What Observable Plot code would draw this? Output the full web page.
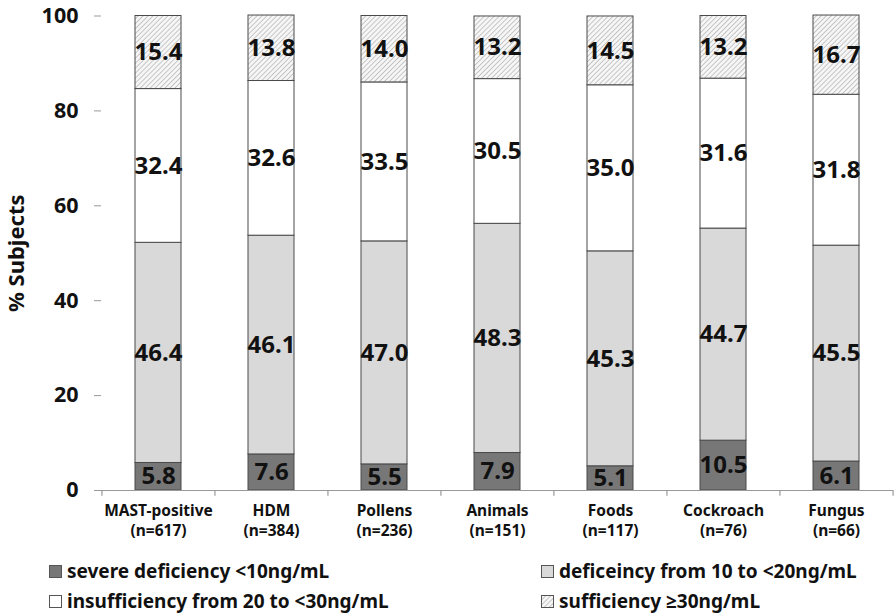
<!DOCTYPE html>
<html>
<head>
<meta charset="utf-8">
<script src="https://cdn.jsdelivr.net/npm/d3@7"></script>
<script src="https://cdn.jsdelivr.net/npm/@observablehq/plot@0.6"></script>
<style>
  body { margin: 0; background: #fff; font-family: "Noto Sans", "Open Sans", sans-serif; }
  #wrap { position: relative; width: 896px; height: 615px; }
  .leg { position: absolute; font-size: 19px; font-weight: bold; color: #111; display: flex; align-items: center; white-space: nowrap; }
  .leg svg { margin-right: 5px; }
</style>
</head>
<body>
<div id="wrap"></div>
<script>
const categories = ["MAST-positive", "HDM", "Pollens", "Animals", "Foods", "Cockroach", "Fungus"];
const counts = [617, 384, 236, 151, 117, 76, 66];
const series = [
  "severe deficiency <10ng/mL",
  "deficeincy from 10 to <20ng/mL",
  "insufficiency from 20 to <30ng/mL",
  "sufficiency \u226530ng/mL"
];
const severe        = [5.8, 7.6, 5.5, 7.9, 5.1, 10.5, 6.1];
const deficiency    = [46.4, 46.1, 47.0, 48.3, 45.3, 44.7, 45.5];
const insufficiency = [32.4, 32.6, 33.5, 30.5, 35.0, 31.6, 31.8];
const sufficiency   = [15.4, 13.8, 14.0, 13.2, 14.5, 13.2, 16.7];
const yTicks = [0, 20, 40, 60, 80, 100];
const fills = ["#777777", "#d9d9d9", "#ffffff", "url(#hatch)"];

const valueArrays = [severe, deficiency, insufficiency, sufficiency];
const data = [];
categories.forEach((c, i) => {
  series.forEach((s, j) => data.push({cat: c, series: s, value: valueArrays[j][i]}));
});

const W = 896, H = 545, mL = 101, mR = 3, mT = 15.5, mB = 55;
const step = (W - mL - mR) / categories.length;
const labelOf = Object.fromEntries(categories.map((c, i) => [c, `${c}\n(n=${counts[i]})`]));

const chart = Plot.plot({
  width: W, height: H,
  marginLeft: mL, marginRight: mR, marginTop: mT, marginBottom: mB,
  style: {fontFamily: "'Noto Sans', 'Open Sans', sans-serif", background: "#fff", color: "#111"},
  x: {domain: categories, paddingInner: 0.59, paddingOuter: 0.295, label: null},
  y: {domain: [0, 100], label: null},
  color: {domain: series, range: fills, legend: false},
  marks: [
    Plot.barY(data, Plot.stackY({x: "cat", y: "value", fill: "series", z: "series", order: series,
      stroke: "#4a4a4a", strokeWidth: 1})),
    Plot.text(data, Plot.stackY({x: "cat", y: "value", z: "series", order: series,
      text: d => d.value.toFixed(1), fontSize: 24, fontWeight: "bold", fill: "#111"})),
    Plot.ruleY([0], {stroke: "#999", strokeWidth: 1.2}),
    Plot.ruleX(categories, {x: d => d, y1: 0, y2: -1.2, dx: -step / 2, stroke: "#999", strokeWidth: 1.2}),
    Plot.ruleX(categories.slice(-1), {x: d => d, y1: 0, y2: -1.2, dx: step / 2, stroke: "#999", strokeWidth: 1.2}),
    Plot.axisY({ticks: yTicks, tickSize: 7, tickPadding: 16, stroke: "#999", fontSize: 21.5, fontWeight: "bold",
      label: null}),
    Plot.ruleX([0], {frameAnchor: "left", stroke: "#999", strokeWidth: 1.2}),
    Plot.axisX({tickSize: 0, tickPadding: 11, fontSize: 15.5, fontWeight: "bold", lineHeight: 1.3,
      tickFormat: d => labelOf[d], label: null}),
    Plot.text(["% Subjects"], {frameAnchor: "left", textAnchor: "middle", dx: -85, rotate: -90, fontSize: 22,
      fontWeight: "bold", text: d => d, fill: "#111"})
  ]
});

// hatch pattern definition
const ns = "http://www.w3.org/2000/svg";
const defs = document.createElementNS(ns, "defs");
defs.innerHTML = `<pattern id="hatch" patternUnits="userSpaceOnUse" width="3.5" height="3.5" patternTransform="rotate(45)">
  <rect width="3.5" height="3.5" fill="#f6f6f6"></rect>
  <line x1="0" y1="0" x2="0" y2="3.5" stroke="#a0a0a0" stroke-width="1.1"></line>
</pattern>`;
chart.insertBefore(defs, chart.firstChild);

const wrap = document.getElementById("wrap");
wrap.appendChild(chart);

// legend
const legPos = [[49, 571], [541, 571], [49, 601], [541, 601]];
series.forEach((s, j) => {
  const div = document.createElement("div");
  div.className = "leg";
  div.style.left = legPos[j][0] + "px";
  div.style.top = (legPos[j][1] - 13) + "px";
  div.style.height = "26px";
  div.innerHTML = `<svg width="13" height="13"><defs><pattern id="hatchL${j}" patternUnits="userSpaceOnUse" width="3.5" height="3.5" patternTransform="rotate(45)"><rect width="3.5" height="3.5" fill="#f6f6f6"></rect><line x1="0" y1="0" x2="0" y2="3.5" stroke="#a0a0a0" stroke-width="1.1"></line></pattern></defs><rect x="0.5" y="0.5" width="12" height="12" fill="${j === 3 ? `url(#hatchL${j})` : fills[j]}" stroke="#555"></rect></svg><span>${s}</span>`;
  wrap.appendChild(div);
});
</script>
</body>
</html>
